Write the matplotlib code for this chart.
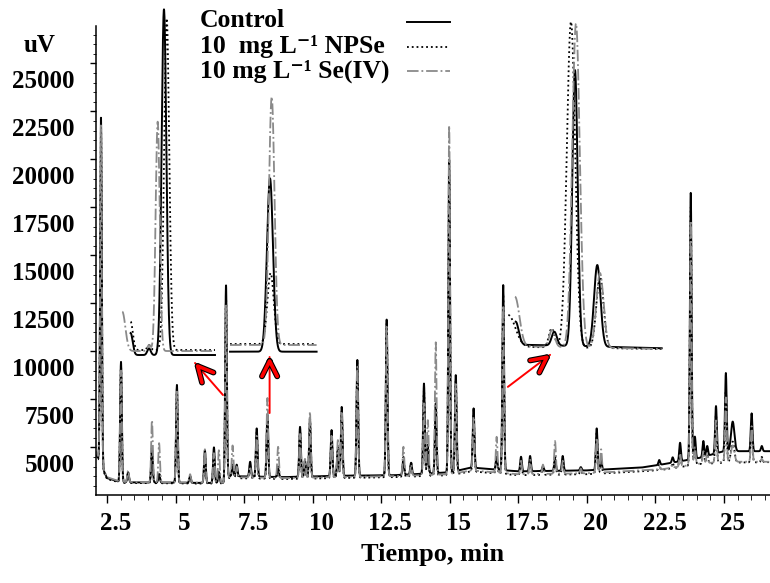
import numpy as np
import matplotlib.pyplot as plt
import matplotlib.patheffects as pe
from matplotlib.lines import Line2D
from matplotlib.ticker import MultipleLocator
from matplotlib.transforms import ScaledTranslation

plt.rcParams['font.family'] = 'Liberation Serif'
plt.rcParams['font.weight'] = 'bold'

labels = ['Control', '10  mg L⁻¹ NPSe', '10 mg L⁻¹ Se(IV)']

# retention time (min) and apex height (uV) of every peak, per sample
rt = [2.28, 3.01, 3.27, 4.14, 4.40, 5.05, 5.53, 6.07, 6.40, 6.58,
      6.84, 7.08, 7.23, 7.72, 7.96, 8.35, 8.74, 9.54, 9.72, 9.90,
      10.69, 10.92, 11.06, 11.63, 12.70, 13.31, 13.59, 14.06, 14.20, 14.49,
      14.98, 15.22, 15.87, 16.71, 16.95, 17.60, 17.93, 18.40, 18.84, 19.12,
      19.78, 20.36, 20.52, 22.64, 23.13, 23.40, 23.79, 23.94, 24.25, 24.39,
      24.71, 25.07, 25.32, 26.01, 26.38]
control_top = [22200, 9450, 3700, 4850, 3600, 8250, 3500, 4850, 5000, 3700,
               13450, 4000, 4100, 4250, 5990, 6680, 3900, 6070, 4300, 6450,
               5900, 4900, 7110, 9550, 11670, 4300, 4200, 8330, 5000, 7290,
               20000, 8770, 7030, 4500, 13450, 4510, 4550, 4000, 4400, 4550,
               3970, 5990, 4300, 4340, 4480, 5240, 18250, 5560, 5330, 5070,
               7150, 8870, 6340, 6770, 5070]
npse_top = [22000, 9300, 3700, 5000, 3700, 8100, 3500, 4700, 4800, 3800,
            12800, 4100, 4000, 4100, 5800, 6500, 4000, 5900, 4300, 6600,
            5700, 5000, 6900, 9400, 11500, 4500, 4200, 8000, 5200, 7100,
            19500, 8500, 6800, 4600, 13000, 4400, 4450, 4000, 4600, 4400,
            3900, 5800, 4400, 4100, 4200, 4900, 17500, 5200, 5000, 4800,
            6700, 8000, 5300, 6300, 4500]
se_top = [21800, 9000, 3800, 6420, 5220, 7900, 3600, 4900, 4700, 4850,
          12400, 5100, 4000, 4000, 5600, 7570, 5030, 5700, 4400, 6860,
          5600, 5380, 6800, 9200, 11300, 5030, 4100, 7300, 6420, 10470,
          21800, 8300, 6600, 5550, 12400, 4300, 4350, 4100, 5330, 4300,
          3900, 5500, 4900, 4000, 4100, 4700, 16800, 5000, 4800, 4700,
          6400, 7600, 5100, 6100, 4400]
peak_sigma = [0.03] * len(rt)
peak_sigma[rt.index(25.32)] = 0.06

# baseline drift (min, uV)
base_t = [2.09, 2.5, 3.0, 6.8, 6.9, 9.0, 11.0, 13.0, 15.0, 15.8,
          16.6, 17.5, 20.0, 22.0, 22.7, 24.1, 25.0, 26.7]
control_base = [4700, 3400, 3180, 3140, 3500, 3450, 3520, 3550, 3700, 3950,
                3850, 3750, 3800, 3950, 4100, 4450, 4800, 4800]
npse_base = [4600, 3350, 3150, 3100, 3400, 3350, 3400, 3450, 3550, 3750,
             3650, 3550, 3600, 3750, 3820, 4130, 4200, 4230]
se_base = [4800, 3450, 3200, 3150, 3450, 3400, 3450, 3500, 3600, 3800,
           3700, 3600, 3650, 3800, 3850, 4150, 4250, 4250]

# zoomed windows: (rt, apex, sigma) per sample, trace start, end and baseline
zoom1_control = [(6.536, 3810, 0.012), (6.644, 3350, 0.010), (6.732, 13520, 0.014)]
zoom1_npse = [(6.536, 4150, 0.013), (6.644, 3450, 0.010), (6.748, 13250, 0.015)]
zoom1_se = [(6.487, 4450, 0.018), (6.644, 3450, 0.010), (6.695, 10150, 0.012)]
zoom1_start = [6.536, 6.536, 6.487]
zoom1_end = 7.032
zoom1_base = [(3150, 3150), (3300, 3300), (3270, 3270)]

zoom2_control = [(8.41, 8450, 0.015)]
zoom2_npse = [(8.413, 5610, 0.016)]
zoom2_se = [(8.4185, 10900, 0.014)]
zoom2_start = [8.21, 8.21, 8.21]
zoom2_end = 8.6435
zoom2_base = [(3250, 3250), (3480, 3480), (3450, 3450)]

zoom3_control = [(18.4535, 4150, 0.015), (18.6465, 3850, 0.013),
                 (18.75, 11700, 0.0135), (18.8615, 5850, 0.016)]
zoom3_npse = [(18.4165, 4350, 0.035), (18.6335, 3950, 0.014),
              (18.73, 13150, 0.021), (18.875, 5500, 0.018)]
zoom3_se = [(18.45, 4900, 0.022), (18.635, 3900, 0.014),
            (18.755, 13100, 0.019), (18.875, 5610, 0.018)]
zoom3_start = [18.4535, 18.4165, 18.45]
zoom3_end = 19.1835
zoom3_base = [(3471, 3351), (3400, 3330), (3420, 3330)]

styles = [dict(color='black', ls='-', lw=1.4),
          dict(color='black', ls=':', lw=1.3),
          dict(color='#8a8a8a', ls='-.', lw=1.3)]


def chromatogram(t, bt, bv, peaks):
    y = np.interp(t, bt, bv)
    for r, top, s in peaks:
        y += (top - np.interp(r, bt, bv)) * np.exp(-0.5 * ((t - r) / s) ** 2)
    return y


fig = plt.figure(figsize=(7.7, 5.83), dpi=100)
ax = fig.add_axes([0.1243, 0.1509, 0.8757, 0.8045])

t = np.arange(2.09, 26.68, 0.004)
for top, base, st in zip([control_top, npse_top, se_top],
                         [control_base, npse_base, se_base], styles):
    y = chromatogram(t, base_t, base, zip(rt, top, peak_sigma))
    ax.plot(t, y, **st)

ax.set_xlim(2.088, 26.68)
ax.set_ylim(2517, 26943)
ax.set_xticks([2.5, 5, 7.5, 10, 12.5, 15, 17.5, 20, 22.5, 25],
              ['2.5', '5', '7.5', '10', '12.5', '15', '17.5', '20', '22.5', '25'])
ax.set_yticks(range(5000, 25001, 2500))
ax.xaxis.set_minor_locator(MultipleLocator(0.5))
ax.yaxis.set_minor_locator(MultipleLocator(500))
ax.tick_params(labelsize=18, width=1, direction='out')
ax.tick_params(axis='x', which='major', length=6, pad=6)
ax.tick_params(axis='x', which='minor', length=3.5)
ax.tick_params(axis='y', which='major', length=4, pad=11)
ax.tick_params(axis='y', which='minor', length=2.5)
ax.spines[['top', 'right']].set_visible(False)
ax.spines[['left', 'bottom']].set_linewidth(1.1)

# tick labels sit a little off their ticks
for lab in ax.get_xticklabels():
    lab.set_transform(lab.get_transform() + ScaledTranslation(0.09, 0, fig.dpi_scale_trans))
for lab in ax.get_yticklabels():
    lab.set_transform(lab.get_transform() + ScaledTranslation(0, -0.16, fig.dpi_scale_trans))

ax.set_xlabel('Tiempo, min', fontsize=19, fontweight='bold', labelpad=6)
fig.text(40 / 770, 1 - 46 / 583, 'uV', fontsize=18, ha='center', va='center')

# enlarged views of three regions
zooms = [
    ((2.828, 9548, 3.722, 18749), (6.45, 7.05), zoom1_start, zoom1_end, zoom1_base,
     [zoom1_control, zoom1_npse, zoom1_se]),
    ((6.913, 9548, 3.282, 18749), (8.20, 8.65), zoom2_start, zoom2_end, zoom2_base,
     [zoom2_control, zoom2_npse, zoom2_se]),
    ((17.015, 9548, 5.835, 18749), (18.40, 19.20), zoom3_start, zoom3_end, zoom3_base,
     [zoom3_control, zoom3_npse, zoom3_se]),
]
for box, xlim, starts, end, bases, peaks in zooms:
    axi = ax.inset_axes(box, transform=ax.transData)
    for st0, (b0, b1), pk, st in zip(starts, bases, peaks, styles):
        tz = np.arange(st0, end, 0.001)
        yz = chromatogram(tz, [xlim[0], xlim[1]], [b0, b1], pk)
        axi.plot(tz, yz, **st)
    axi.set_xlim(*xlim)
    axi.set_ylim(3000, 13800)
    axi.axis('off')


def red_arrow(tail, tip):
    ax.annotate('', xy=tip, xytext=tail,
                arrowprops=dict(arrowstyle='-', color='red', lw=1.4,
                                shrinkA=0, shrinkB=0))
    p0, p1 = ax.transData.transform([tail, tip])
    d = (p1 - p0) / np.hypot(*(p1 - p0))
    back = -d * 8 * 72 / fig.dpi
    ax.annotate('', xy=tip, xytext=tuple(back), textcoords='offset points',
                arrowprops=dict(arrowstyle='->,head_length=1.1,head_width=0.55',
                                color='red', lw=2.6, shrinkA=0, shrinkB=0,
                                path_effects=[pe.Stroke(linewidth=4.2, foreground='black'),
                                              pe.Normal()]))


red_arrow((6.73, 7725), (5.71, 9392))
red_arrow((8.43, 6787), (8.43, 9704))
red_arrow((17.12, 8150), (18.66, 9817))

# legend: one block of left-aligned labels, line samples to their right
fig.text(200 / 770, 1 - 78 / 583, '\n'.join(labels), fontsize=18.5, va='baseline',
         linespacing=1.13, family=['Liberation Serif', 'DejaVu Serif'])
for i, st in enumerate(styles):
    ly = 1 - (22 + 24.5 * i) / 583
    fig.add_artist(Line2D([407 / 770, 450 / 770], [ly, ly], transform=fig.transFigure, **st))

fig.savefig('out.png', dpi=100)
